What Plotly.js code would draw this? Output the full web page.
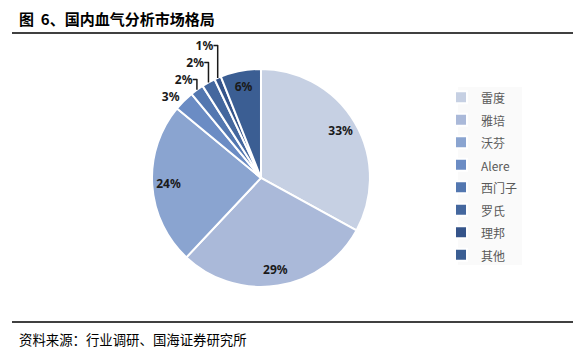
<!DOCTYPE html>
<html>
<head>
<meta charset="utf-8">
<script src="https://cdn.plot.ly/plotly-3.0.1.min.js"></script>
<style>html,body{margin:0;padding:0;background:#fff;}#chart{width:581px;height:353px;}</style>
</head>
<body>
<div id="chart"></div>
<script>
const labels = ['雷度', '雅培', '沃芬', 'Alere', '西门子', '罗氏', '理邦', '其他'];
const shares = [33, 29, 24, 3, 2, 2, 1, 6];
const sliceColors = ['#c6d0e3', '#aab9d9', '#8aa4d0', '#6b8cc4', '#5377b0', '#44679e', '#35548a', '#3b5e93'];
const labelPositions = ['inside', 'inside', 'inside', 'outside', 'outside', 'outside', 'outside', 'inside'];
const chartTitle = '图\u00a0 6、国内血气分析市场格局';
const sourceText = '资料来源：行业调研、国海证券研究所';

const pieDomain = {x: [0.2616, 0.6368], y: [0.187, 0.805]};
const labelFont = {family: 'Noto Sans, DejaVu Sans, sans-serif', size: 12, color: '#1a1a1a', weight: 'bold'};

const piePaint = {
  type: 'pie',
  labels: labels.map(l => '<span style="font-size:12px">' + l + '</span>'),
  values: shares,
  sort: false,
  direction: 'clockwise',
  rotation: 0,
  marker: {colors: sliceColors, line: {color: '#ffffff', width: 2}},
  textinfo: 'none',
  hoverinfo: 'none',
  domain: pieDomain
};

const pieText = {
  type: 'pie',
  labels: labels,
  values: shares,
  sort: false,
  direction: 'clockwise',
  rotation: 0,
  hole: 0.7,
  showlegend: false,
  marker: {colors: labels.map(() => 'rgba(0,0,0,0)'), line: {width: 0}},
  texttemplate: '%{value}%',
  textposition: labelPositions,
  insidetextorientation: 'horizontal',
  textfont: labelFont,
  outsidetextfont: labelFont,
  hoverinfo: 'none',
  domain: pieDomain
};

const layout = {
  width: 581, height: 353,
  margin: {l: 0, r: 0, t: 0, b: 0},
  paper_bgcolor: '#ffffff',
  showlegend: true,
  legend: {
    x: 441/581, y: 1 - 81/353, xanchor: 'left', yanchor: 'top',
    bgcolor: 'rgba(0,0,0,0)',
    font: {family: 'Noto Sans CJK SC, Noto Sans, sans-serif', size: 15, color: '#595959'},
    itemwidth: 30
  },
  annotations: [
    {text: chartTitle, xref: 'paper', yref: 'paper', x: 17/581, y: 1 - 19/353, xanchor: 'left', yanchor: 'middle', showarrow: false,
     font: {family: 'Noto Sans CJK SC, sans-serif', size: 15, color: '#000000', weight: 'bold'}},
    {text: sourceText, xref: 'paper', yref: 'paper', x: 17/581, y: 1 - 339/353, xanchor: 'left', yanchor: 'middle', showarrow: false,
     font: {family: 'Noto Sans CJK SC, sans-serif', size: 13.4, color: '#000000'}}
  ],
  shapes: [
    {type: 'rect', xref: 'paper', yref: 'paper', layer: 'below', x0: 458/581, x1: 522/581, y0: 1 - 265/353, y1: 1 - 87/353,
     fillcolor: '#fafafa', line: {width: 0}},
    {type: 'line', xref: 'paper', yref: 'paper', x0: 12/581, x1: 573/581, y0: 1 - 33/353, y1: 1 - 33/353, line: {color: '#000000', width: 1.5}},
    {type: 'line', xref: 'paper', yref: 'paper', x0: 12/581, x1: 573/581, y0: 1 - 322/353, y1: 1 - 322/353, line: {color: '#000000', width: 1.5}}
  ]
};

Plotly.newPlot('chart', [piePaint, pieText], layout, {displayModeBar: false, staticPlot: true});
</script>
</body>
</html>
